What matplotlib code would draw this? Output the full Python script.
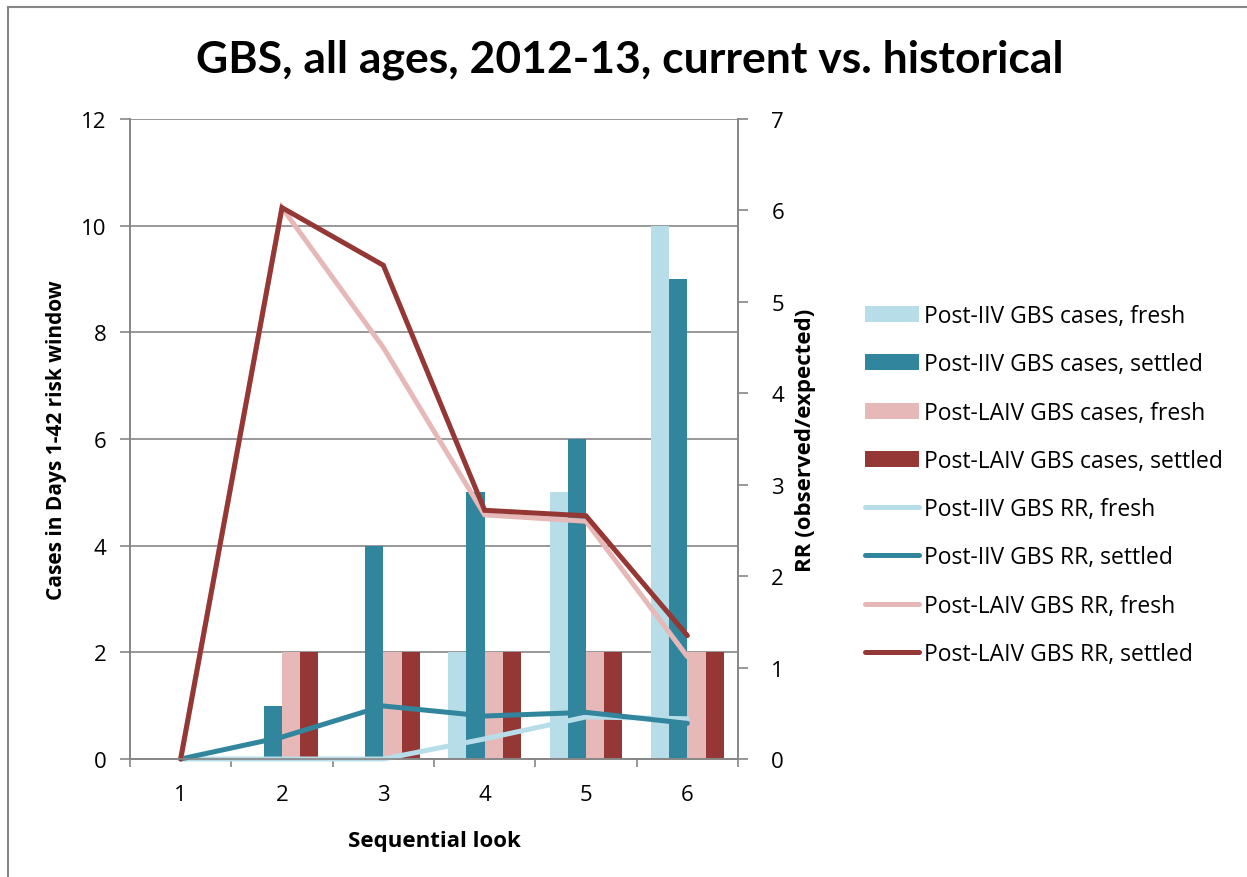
import numpy as np
import matplotlib.pyplot as plt
from matplotlib.patches import Rectangle

plt.rcParams['font.family'] = ['Open Sans', 'DejaVu Sans']

looks = [1, 2, 3, 4, 5, 6]

iiv_cases_fresh = [0, 0, 0, 2, 5, 10]
iiv_cases_settled = [0, 1, 4, 5, 6, 9]
laiv_cases_fresh = [0, 2, 2, 2, 2, 2]
laiv_cases_settled = [0, 2, 2, 2, 2, 2]

iiv_rr_fresh = [0, 0, 0, 0.22, 0.46, 0.44]
iiv_rr_settled = [0, 0.24, 0.58, 0.47, 0.51, 0.39]
laiv_rr_fresh = [0, 6.03, 4.5, 2.67, 2.6, 1.12]
laiv_rr_settled = [0, 6.03, 5.4, 2.72, 2.66, 1.35]

c_iiv_fresh = '#b7dee8'
c_iiv_settled = '#31859c'
c_laiv_fresh = '#e6b9b8'
c_laiv_settled = '#953735'
grey = '#868686'

fig = plt.figure(figsize=(12.47, 8.78), dpi=100)
ax = fig.add_axes([130 / 1247, 1 - 760 / 878, 608 / 1247, 640 / 878])
ax2 = ax.twinx()

x = np.arange(len(looks))
w = 0.18
bar_series = [
    (iiv_cases_fresh, c_iiv_fresh, 'Post-IIV GBS cases, fresh'),
    (iiv_cases_settled, c_iiv_settled, 'Post-IIV GBS cases, settled'),
    (laiv_cases_fresh, c_laiv_fresh, 'Post-LAIV GBS cases, fresh'),
    (laiv_cases_settled, c_laiv_settled, 'Post-LAIV GBS cases, settled'),
]
handles = []
for i, (vals, col, lab) in enumerate(bar_series):
    h = ax.bar(x + (i - 1.5) * w, vals, width=w, color=col, label=lab, zorder=2)
    handles.append(h)

line_series = [
    (iiv_rr_fresh, c_iiv_fresh, 'Post-IIV GBS RR, fresh'),
    (iiv_rr_settled, c_iiv_settled, 'Post-IIV GBS RR, settled'),
    (laiv_rr_fresh, c_laiv_fresh, 'Post-LAIV GBS RR, fresh'),
    (laiv_rr_settled, c_laiv_settled, 'Post-LAIV GBS RR, settled'),
]
for vals, col, lab in line_series:
    h, = ax2.plot(x, vals, color=col, linewidth=3.6, label=lab,
                  solid_capstyle='round', solid_joinstyle='miter', clip_on=False)
    handles.append(h)

ax.set_xlim(-0.5, 5.5)
ax.set_ylim(0, 12)
ax.set_yticks(range(0, 13, 2))
ax2.set_ylim(0, 7)
ax2.set_yticks(range(0, 8))

ax.set_xticks(x)
ax.set_xticklabels([str(v) for v in looks])
ax.set_xticks(np.arange(-0.5, 6.0, 1.0), minor=True)
ax.tick_params(axis='x', which='major', length=0, labelsize=16, pad=18)
ax.tick_params(axis='x', which='minor', length=6, color=grey, width=1.2)
ax.tick_params(axis='y', length=7, color=grey, width=1.2, labelsize=16, pad=10)
ax2.tick_params(axis='y', length=7, color=grey, width=1.2, labelsize=16, pad=17)

ax.grid(True, axis='y', color=grey, linewidth=1.2, zorder=0)
ax.set_axisbelow(True)
for a in (ax, ax2):
    a.spines['top'].set_visible(False)
    for s in ('left', 'right', 'bottom'):
        a.spines[s].set_color(grey)
        a.spines[s].set_linewidth(1.2)

ax.set_xlabel('Sequential look', fontsize=16, fontweight='bold', labelpad=18)
ax.set_ylabel('Cases in Days 1-42 risk window', fontsize=15, fontweight='bold', labelpad=10)
ax2.set_ylabel('RR (observed/expected)', fontsize=16, fontweight='bold', labelpad=8)

fig.text(630 / 1247, 1 - 60 / 878, 'GBS, all ages, 2012-13, current vs. historical',
         ha='center', va='center', fontsize=32, fontweight='bold', family=['Lato', 'DejaVu Sans'])

fig.legend(handles=handles, loc='center left', bbox_to_anchor=(856 / 1247, 1 - 486 / 878),
           frameon=False, fontsize=16.5, labelspacing=1.06, handlelength=2.35,
           handletextpad=0.2, borderaxespad=0)

fig.patches.append(Rectangle((8 / 1247, -0.05), 1.2, (1 - 8 / 878) + 0.05,
                             transform=fig.transFigure, fill=False,
                             edgecolor=grey, linewidth=1.5))

fig.savefig('out.png', dpi=100)
